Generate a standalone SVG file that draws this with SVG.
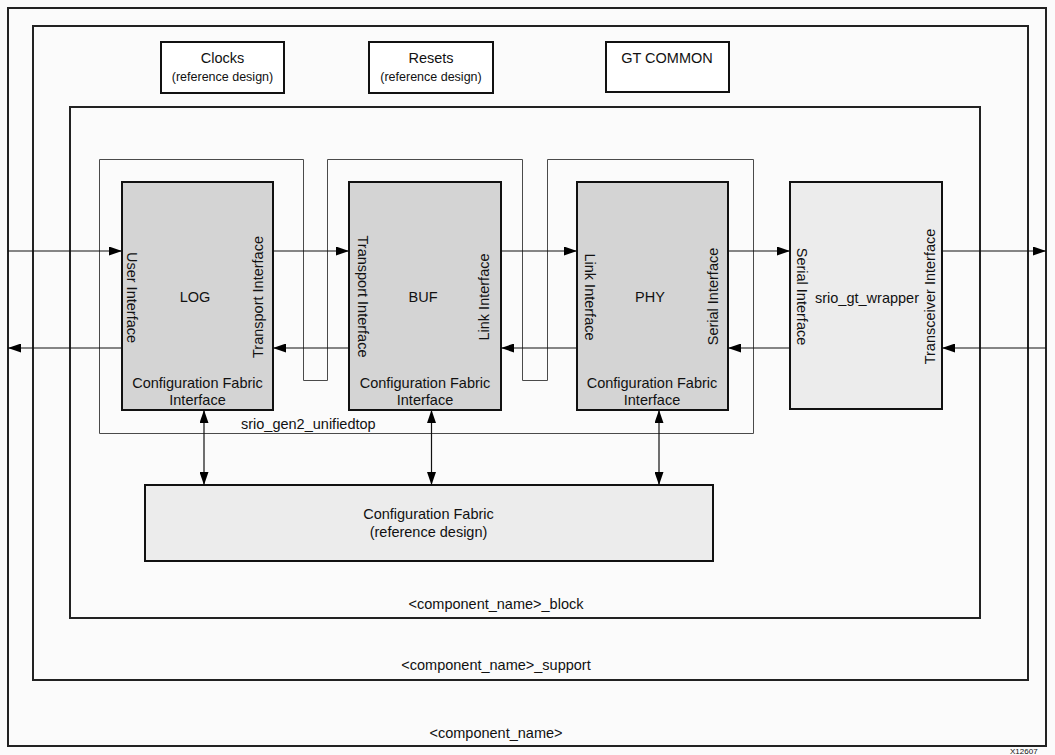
<svg xmlns="http://www.w3.org/2000/svg" width="1055" height="755" viewBox="0 0 1055 755">
<style>
text{font-family:"Liberation Sans",Arial,sans-serif;fill:#111;font-size:14.5px}
.sm{font-size:12.5px}
.frame{fill:none;stroke:#222;stroke-width:2}
.box{fill:#fff;stroke:#111;stroke-width:2}
.core{fill:#d4d4d4;stroke:#111;stroke-width:2}
.lite{fill:#ececec;stroke:#111;stroke-width:2}
.wrap{fill:none;stroke:#4a4a4a;stroke-width:1}
.c{text-anchor:middle}
.con line{stroke:#111;stroke-width:1.2}
</style>
<defs>
<marker id="ah" markerUnits="userSpaceOnUse" markerWidth="13" markerHeight="9" refX="13" refY="4.5" orient="auto-start-reverse">
<path d="M0,0 L13,4.5 L0,9 z" fill="#000"/>
</marker>
</defs>
<rect width="1055" height="755" fill="#fbfbfb"/>
<g id="component_name">
<rect class="frame" x="8" y="8" width="1038" height="738"/>
<text class="c" x="496" y="738">&lt;component_name&gt;</text>
</g>
<g id="support">
<rect class="frame" x="33" y="26" width="995" height="654"/>
<text class="c" x="496" y="670">&lt;component_name&gt;_support</text>
</g>
<g id="clocks">
<rect class="box" x="161" y="42" width="123" height="51"/>
<text class="c" x="222.5" y="63">Clocks</text>
<text class="c sm" x="222.5" y="81">(reference design)</text>
</g>
<g id="resets">
<rect class="box" x="369" y="42" width="124" height="51"/>
<text class="c" x="431" y="63">Resets</text>
<text class="c sm" x="431" y="81">(reference design)</text>
</g>
<g id="gtcommon">
<rect class="box" x="606" y="42" width="123" height="50"/>
<text class="c" x="667" y="63">GT COMMON</text>
</g>
<g id="block">
<rect class="frame" x="70" y="107" width="910" height="511"/>
<text class="c" x="496" y="609">&lt;component_name&gt;_block</text>
</g>
<g id="unifiedtop">
<path class="wrap" d="M99.5,159.5 H303.5 V380.5 H327.5 V159.5 H522.5 V380.5 H547.5 V159.5 H753.5 V433.5 H99.5 Z"/>
<text x="241" y="429">srio_gen2_unifiedtop</text>
</g>
<g id="log">
<rect class="core" x="122" y="182" width="151" height="228"/>
<text class="c" x="195" y="302">LOG</text>
<text class="c" transform="translate(126.7,297.5) rotate(90)">User Interface</text>
<text class="c" transform="translate(263.3,297) rotate(-90)">Transport Interface</text>
<text class="c" x="197.5" y="388">Configuration Fabric</text>
<text class="c" x="197.5" y="405">Interface</text>
</g>
<g id="buf">
<rect class="core" x="349" y="182" width="152" height="228"/>
<text class="c" x="423" y="302">BUF</text>
<text class="c" transform="translate(358.3,296.5) rotate(90)">Transport Interface</text>
<text class="c" transform="translate(489,297) rotate(-90)">Link Interface</text>
<text class="c" x="425" y="388">Configuration Fabric</text>
<text class="c" x="425" y="405">Interface</text>
</g>
<g id="phy">
<rect class="core" x="577" y="182" width="151" height="228"/>
<text class="c" x="650" y="302">PHY</text>
<text class="c" transform="translate(585,297) rotate(90)">Link Interface</text>
<text class="c" transform="translate(718.3,296.5) rotate(-90)">Serial Interface</text>
<text class="c" x="652" y="388">Configuration Fabric</text>
<text class="c" x="652" y="405">Interface</text>
</g>
<g id="gt_wrapper">
<rect class="lite" x="790" y="182" width="152" height="227"/>
<text class="c" x="867" y="303">srio_gt_wrapper</text>
<text class="c" transform="translate(797.3,296.5) rotate(90)">Serial Interface</text>
<text class="c" transform="translate(935,296.5) rotate(-90)">Transceiver Interface</text>
</g>
<g id="config_fabric">
<rect class="lite" x="145" y="485" width="568" height="76"/>
<text class="c" x="428.5" y="519">Configuration Fabric</text>
<text class="c" x="428.5" y="537">(reference design)</text>
</g>
<g id="connectors" class="con">
<line x1="8" y1="251" x2="122" y2="251" marker-end="url(#ah)"/>
<line x1="122" y1="348" x2="8" y2="348" marker-end="url(#ah)"/>
<line x1="273" y1="251" x2="349" y2="251" marker-end="url(#ah)"/>
<line x1="349" y1="348" x2="273" y2="348" marker-end="url(#ah)"/>
<line x1="501" y1="251" x2="577" y2="251" marker-end="url(#ah)"/>
<line x1="577" y1="348" x2="501" y2="348" marker-end="url(#ah)"/>
<line x1="728" y1="251" x2="790" y2="251" marker-end="url(#ah)"/>
<line x1="790" y1="348" x2="728" y2="348" marker-end="url(#ah)"/>
<line x1="942" y1="251" x2="1046" y2="251" marker-end="url(#ah)"/>
<line x1="1046" y1="348" x2="942" y2="348" marker-end="url(#ah)"/>
<line x1="204" y1="410" x2="204" y2="485" marker-start="url(#ah)" marker-end="url(#ah)"/>
<line x1="431.5" y1="410" x2="431.5" y2="485" marker-start="url(#ah)" marker-end="url(#ah)"/>
<line x1="659" y1="410" x2="659" y2="485" marker-start="url(#ah)" marker-end="url(#ah)"/>
</g>
<text x="1010" y="754" style="font-size:8px">X12607</text>
</svg>
